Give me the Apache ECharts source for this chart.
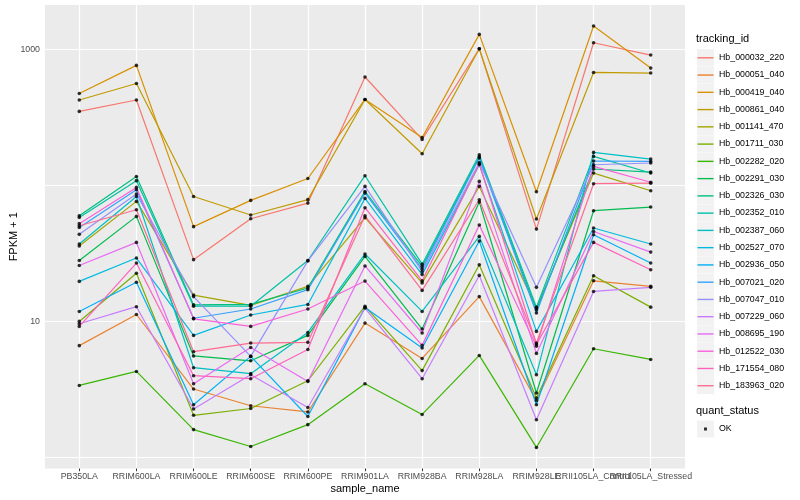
<!DOCTYPE html>
<html>
<head>
<meta charset="utf-8">
<script src="https://cdn.jsdelivr.net/npm/echarts@6/dist/echarts.min.js"></script>
<style>html,body{margin:0;padding:0;background:#fff}#chart{width:800px;height:500px}</style>
</head>
<body>
<div id="chart"></div>
<script>
// ---- data (FPKM + 1) ----
const categories = ['PB350LA','RRIM600LA','RRIM600LE','RRIM600SE','RRIM600PE','RRIM901LA','RRIM928BA','RRIM928LA','RRIM928LE','RRII105LA_Control','RRII105LA_Stressed'];
const yTickLabels = ['10', '1000'];

const hb_000032_220 = [352, 427, 28.6, 57.2, 74.5, 630, 219, 1017, 48.0, 1125, 914];
const hb_000051_040 = [6.67, 11.3, 3.20, 2.41, 2.17, 9.77, 5.37, 15.3, 2.63, 20.0, 18.2];
const hb_000419_040 = [477, 767, 50.0, 78, 113, 431, 226, 1297, 90.4, 1493, 733];
const hb_000861_040 = [427, 565, 83.4, 60.9, 79, 431, 172, 1017, 56.9, 681, 674];
const hb_001141_470 = [36.0, 76.7, 15.7, 13.2, 18.2, 58.2, 19.3, 98.9, 12.6, 123.9, 91.9];
const hb_001711_030 = [10.05, 22.7, 2.05, 2.30, 3.68, 13.0, 4.37, 26.2, 2.75, 21.8, 12.8];
const hb_002282_020 = [3.40, 4.31, 1.61, 1.21, 1.75, 3.50, 2.08, 5.65, 1.19, 6.33, 5.28];
const hb_002291_030 = [28.2, 59.5, 5.60, 5.16, 7.93, 30.2, 8.83, 75.9, 2.99, 65.5, 69.7];
const hb_002326_030 = [60.2, 117, 13.3, 13.4, 17.7, 90.8, 25.5, 163, 12.2, 132.7, 126];
const hb_002352_010 = [58.5, 109, 13.0, 13.0, 28.2, 118.5, 26.5, 169, 12.8, 164.3, 124];
const hb_002387_060 = [37.3, 83.4, 4.59, 4.15, 8.34, 31.5, 11.9, 42.4, 4.07, 175.8, 157];
const hb_002527_070 = [19.8, 29.4, 7.93, 11.2, 13.4, 80.7, 22.2, 143, 8.49, 48.9, 37.3];
const hb_002936_050 = [11.9, 19.5, 2.45, 5.56, 2.01, 12.7, 6.41, 39.2, 2.45, 43.6, 27.0];
const hb_007021_020 = [49.3, 93.5, 10.6, 12.4, 17.2, 88.3, 24.4, 160, 11.6, 152, 151];
const hb_007047_010 = [43.9, 86.9, 15.3, 5.56, 28.0, 98.9, 23.4, 148, 17.9, 142.6, 147];
const hb_007229_060 = [9.67, 12.9, 2.28, 4.08, 2.34, 12.6, 3.81, 21.9, 1.90, 16.7, 17.9];
const hb_008695_190 = [25.9, 38.3, 3.50, 6.47, 3.64, 25.7, 8.26, 107.6, 5.85, 46.1, 32.5];
const hb_012522_030 = [52.6, 97.2, 10.5, 9.24, 12.4, 19.9, 6.70, 51.4, 6.61, 138.7, 106];
const hb_171554_080 = [9.24, 27.0, 4.01, 3.81, 6.25, 68.9, 20.0, 145, 6.8, 38.3, 24.1];
const hb_183963_020 = [50.8, 66.6, 6.02, 6.97, 7.05, 60.1, 17.0, 78.9, 6.97, 103.5, 104.5];

const trackingIds = ['Hb_000032_220','Hb_000051_040','Hb_000419_040','Hb_000861_040','Hb_001141_470','Hb_001711_030','Hb_002282_020','Hb_002291_030','Hb_002326_030','Hb_002352_010','Hb_002387_060','Hb_002527_070','Hb_002936_050','Hb_007021_020','Hb_007047_010','Hb_007229_060','Hb_008695_190','Hb_012522_030','Hb_171554_080','Hb_183963_020'];
const seriesValues = [hb_000032_220, hb_000051_040, hb_000419_040, hb_000861_040, hb_001141_470, hb_001711_030, hb_002282_020, hb_002291_030, hb_002326_030, hb_002352_010, hb_002387_060, hb_002527_070, hb_002936_050, hb_007021_020, hb_007047_010, hb_007229_060, hb_008695_190, hb_012522_030, hb_171554_080, hb_183963_020];

// ---- style ----
const colors = ['#F8766D','#EA8331','#D89000','#C09B00','#A3A500','#7CAE00','#39B600','#00BB4E','#00BF7D','#00C1A3','#00BFC4','#00BAE0','#00B0F6','#35A2FF','#9590FF','#C77CFF','#E76BF3','#FA62DB','#FF62BC','#FF6C91'];
const FONT = 'Liberation Sans';
const catIdx = categories.map((c, i) => i);
const evenIdx = catIdx.filter(i => i % 2 === 0);
const oddIdx = catIdx.filter(i => i % 2 === 1);

const lineSeries = trackingIds.map((name, k) => ({
  name: name,
  type: 'line',
  data: seriesValues[k].map((v, i) => [i, v]),
  symbol: 'none',
  showSymbol: false,
  lineStyle: { color: colors[k], width: 1.2 },
  itemStyle: { color: colors[k] },
  z: 2,
  animation: false
}));

const pointData = [];
seriesValues.forEach(arr => arr.forEach((v, i) => pointData.push([i, v])));

const pointSeries = {
  name: 'OK',
  type: 'scatter',
  data: pointData,
  symbol: 'circle',
  symbolSize: 3.6,
  itemStyle: { color: '#000' },
  z: 3,
  animation: false
};

const lineIcon = 'path://M0,0L0,0M17,0L17,0M0,17L0,17M17,17L17,17M0.5,7.9L16.5,7.9L16.5,9.3L0.5,9.3Z';
const okIcon = 'path://M0,0L0,0M17,0L17,0M0,17L0,17M17,17L17,17M7,7L10,7L10,10L7,10Z';

const legendTop = 49.2;
const legendStep = 17.26;
const keyRects = trackingIds.map((n, i) => ({
  type: 'rect',
  shape: { x: 697, y: legendTop + i * legendStep, width: 17, height: 17 },
  style: { fill: '#F2F2F2' },
  z: 0
}));
keyRects.push({
  type: 'rect',
  shape: { x: 697, y: 420.5, width: 17, height: 17 },
  style: { fill: '#F2F2F2' },
  z: 0
});

const xLabelStyle = { color: '#4D4D4D', fontSize: 8.8, margin: 4, hideOverlap: false, fontFamily: FONT,
  showMinLabel: true, showMaxLabel: true,
  formatter: v => categories[Math.round(v)] };

const chart = echarts.init(document.getElementById('chart'), null, { renderer: 'canvas' });
chart.setOption({
  animation: false,
  backgroundColor: '#fff',
  textStyle: { fontFamily: FONT },
  title: [
    { text: 'tracking_id', left: 696, top: 33.5, padding: 0,
      textStyle: { fontSize: 11, fontWeight: 'normal', color: '#000', fontFamily: FONT } },
    { text: 'quant_status', left: 696, top: 405.5, padding: 0,
      textStyle: { fontSize: 11, fontWeight: 'normal', color: '#000', fontFamily: FONT } }
  ],
  graphic: keyRects,
  legend: [
    {
      orient: 'vertical', left: 697, top: legendTop, padding: 0,
      itemWidth: 17, itemHeight: 17, itemGap: legendStep - 17,
      selectedMode: false,
      textStyle: { fontSize: 8.8, color: '#000', fontFamily: FONT },
      data: trackingIds.map((n, k) => ({ name: n, icon: lineIcon, itemStyle: { color: colors[k] } }))
    },
    {
      orient: 'vertical', left: 697, top: 420.5, padding: 0,
      itemWidth: 17, itemHeight: 17,
      selectedMode: false,
      textStyle: { fontSize: 8.8, color: '#000', fontFamily: FONT },
      data: [{ name: 'OK', icon: okIcon, itemStyle: { color: '#000' } }]
    }
  ],
  grid: {
    left: 45, right: 115, top: 5, bottom: 31.5,
    containLabel: false, outerBoundsMode: 'none',
    show: true, backgroundColor: '#EBEBEB', borderWidth: 0
  },
  xAxis: [
    {
      type: 'value', min: -0.6, max: 10.6, position: 'bottom',
      name: 'sample_name', nameLocation: 'middle', nameGap: 15, nameMoveOverlap: false,
      nameTextStyle: { color: '#000', fontSize: 11, fontFamily: FONT },
      axisLine: { show: false },
      axisTick: { show: true, length: 2.7, lineStyle: { color: '#333', width: 1 }, customValues: catIdx },
      axisLabel: Object.assign({ customValues: evenIdx }, xLabelStyle),
      splitLine: { show: true, lineStyle: { color: '#FFFFFF', width: 1.2 } }
    },
    {
      type: 'value', min: -0.6, max: 10.6, position: 'bottom', offset: 0,
      axisLine: { show: false },
      axisTick: { show: false },
      axisLabel: Object.assign({ customValues: oddIdx }, xLabelStyle),
      splitLine: { show: false }
    }
  ],
  yAxis: {
    type: 'log', logBase: 10, min: 0.833, max: 2133,
    name: 'FPKM + 1', nameLocation: 'middle', nameGap: 26, nameMoveOverlap: false,
    nameTextStyle: { color: '#000', fontSize: 11, fontFamily: FONT },
    axisLine: { show: false },
    axisTick: { show: false },
    axisLabel: { color: '#4D4D4D', fontSize: 8.8, margin: 5, showMinLabel: false, showMaxLabel: false,
      formatter: v => { const s = String(Math.round(v)); return yTickLabels.indexOf(s) >= 0 && Math.abs(v - Math.round(v)) < 1e-6 ? s : ''; },
      fontFamily: FONT },
    splitLine: { show: true, lineStyle: { color: '#FFFFFF', width: 1.1 }, showMinLine: false, showMaxLine: false }
  },
  series: lineSeries.concat([pointSeries])
});
</script>
</body>
</html>
